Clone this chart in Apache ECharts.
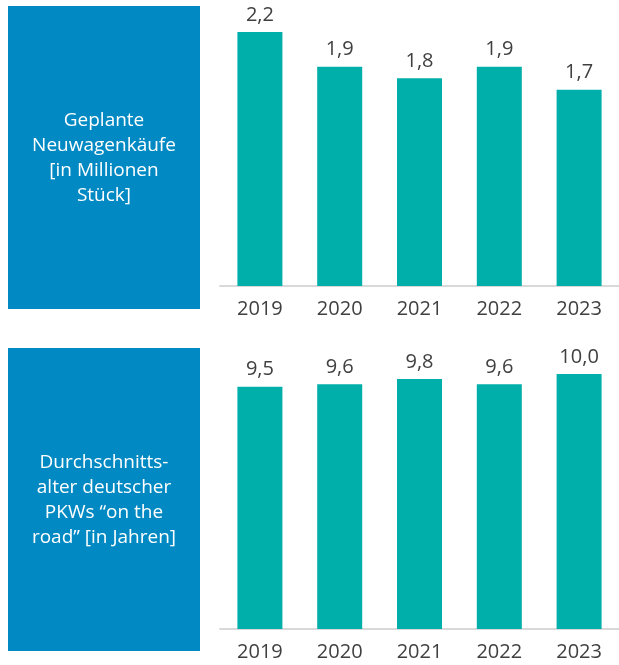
<!DOCTYPE html>
<html>
<head>
<meta charset="utf-8">
<script src="https://cdn.jsdelivr.net/npm/echarts@6/dist/echarts.min.js"></script>
<style>
  html, body { margin: 0; padding: 0; background: #ffffff; }
  #chart { width: 619px; height: 665px; }
</style>
</head>
<body>
<div id="chart"></div>
<script>
// Years shown on both panels
const years = ['2019', '2020', '2021', '2022', '2023'];
// Planned new car purchases, millions of units
const purchases = [2.2, 1.9, 1.8, 1.9, 1.7];
// Average age of German passenger cars on the road, years
const carAge = [9.5, 9.6, 9.8, 9.6, 10.0];

const titleTop = 'Geplante\nNeuwagenkäufe\n[in Millionen\nStück]';
const titleBottom = 'Durchschnitts-\nalter deutscher\nPKWs \u201Con the\nroad\u201D [in Jahren]';

const FONT = '"Open Sans", "Noto Sans", sans-serif';
const BLUE = '#0089C2';
const TEAL = '#00AEAA';
const TEXT = '#404040';

const fmt = v => v.toFixed(1).replace('.', ',');

const chart = echarts.init(document.getElementById('chart'), null, { renderer: 'canvas' });

function xAxis(gridIndex) {
  return {
    type: 'category', gridIndex, data: years,
    axisLine: { show: true, lineStyle: { color: '#d9d9d9', width: 2 } },
    axisTick: { show: false },
    axisLabel: { color: TEXT, fontSize: 20, fontFamily: FONT, margin: 13 },
    splitLine: { show: false }
  };
}
function yAxis(gridIndex, max) {
  return {
    type: 'value', gridIndex, min: 0, max,
    show: false, splitLine: { show: false }
  };
}
function barSeries(idx, data) {
  return {
    type: 'bar', xAxisIndex: idx, yAxisIndex: idx, data,
    barWidth: 45,
    itemStyle: { color: TEAL },
    label: {
      show: true, position: 'top', distance: 7,
      color: TEXT, fontSize: 20, fontFamily: FONT,
      formatter: p => fmt(p.value)
    },
    silent: true
  };
}
function box(y, text) {
  return [
    { type: 'rect', shape: { x: 8, y, width: 192, height: 303 }, style: { fill: BLUE }, silent: true },
    {
      type: 'text', x: 104, y: y + 152,
      style: {
        text, fill: '#ffffff', fontSize: 19, fontFamily: FONT,
        lineHeight: 25, align: 'center', verticalAlign: 'middle'
      },
      silent: true
    }
  ];
}

chart.setOption({
  animation: false,
  grid: [
    { left: 220, width: 402, top: 32, height: 254 },
    { left: 220, width: 402, top: 374, height: 255 }
  ],
  xAxis: [xAxis(0), xAxis(1)],
  yAxis: [yAxis(0, 2.2), yAxis(1, 10)],
  series: [barSeries(0, purchases), barSeries(1, carAge)],
  graphic: [...box(6, titleTop), ...box(348, titleBottom)]
});
</script>
</body>
</html>
